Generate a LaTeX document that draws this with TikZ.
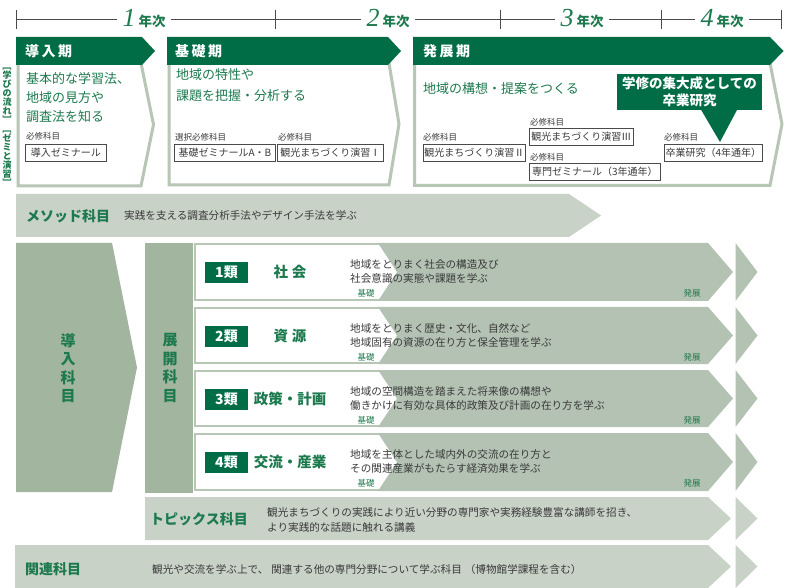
\documentclass[tikz,border=0pt]{standalone}
\usepackage{fontspec}
\usepackage{graphicx}
\setmainfont{Noto Sans CJK JP}
\newfontfamily\numfont{Liberation Serif}
\definecolor{dgreen}{HTML}{006D46}
\definecolor{tgreen}{HTML}{1D7A4E}
\definecolor{bord}{HTML}{B8C6B6}
\definecolor{lrow}{HTML}{C8D2C7}
\definecolor{mrow}{HTML}{B3C2B2}
\definecolor{drow}{HTML}{A2B59F}
\definecolor{tgrey}{HTML}{3A3A3A}
\definecolor{tline}{HTML}{4A4A4A}
\newcommand\jsp{\hspace{2.5pt}}
\newcommand\vbl{\rotatebox[origin=c]{-90}{［}}
\newcommand\vbr{\rotatebox[origin=c]{-90}{］}}
\begin{document}
\begin{tikzpicture}[x=1pt,y=-1pt,
 yr/.style={inner xsep=5pt,inner ysep=0pt,text=tgreen},
 hdrtxt/.style={text=white,font=\fontsize{14}{14}\selectfont\bfseries,anchor=west,inner sep=0pt},
 gtxt/.style={text=tgreen,font=\fontsize{13}{13}\selectfont,anchor=west,inner sep=0pt},
 reqlab/.style={text=tgrey,font=\fontsize{8.5}{8.5}\selectfont,anchor=west,inner sep=0pt},
 course/.style={draw=tline,line width=0.9pt,fill=white,text=tgrey,font=\fontsize{10}{10}\selectfont,inner sep=1pt,minimum height=17pt,anchor=west},
 bodybox/.style={draw=bord,line width=3pt,fill=white},
 cat/.style={fill=dgreen,text=white,font=\fontsize{14}{14}\selectfont\bfseries,minimum width=43pt,minimum height=21pt,inner sep=0pt},
 cattitle/.style={text=tgreen,font=\fontsize{14.5}{14.5}\selectfont\bfseries,inner sep=0pt},
 desc/.style={text=tgrey,font=\fontsize{10.6}{10.6}\selectfont,anchor=west,inner sep=0pt},
 lvl/.style={text=tgreen,font=\fontsize{8.5}{8.5}\selectfont,inner sep=0pt},
 vtitle/.style={text=tgreen,font=\fontsize{15}{18.5}\selectfont\bfseries,align=center,inner sep=0pt},
 rowtitle/.style={text=tgreen,font=\fontsize{14}{14}\selectfont\bfseries,anchor=west,inner sep=0pt},
 tick/.style={draw=tline,line width=0.8pt}
]
\useasboundingbox (0,0) rectangle (785,588);
\fill[white] (0,0) rectangle (785,588);

% ---- timeline
\coordinate (k0) at (16,19);
\coordinate (k1) at (275,19);
\coordinate (k2) at (500,19);
\coordinate (k3) at (661,19);
\coordinate (k4) at (781,19);
\foreach \x in {16,275,500,661,781}{\draw[tick] (\x,10) -- (\x,29);}
\node[yr] (y1) at (144,19) {{\numfont\itshape\fontsize{26}{26}\selectfont 1}\hspace{3pt}{\fontsize{13.5}{13.5}\selectfont\bfseries 年次}};
\node[yr] (y2) at (388,19) {{\numfont\itshape\fontsize{26}{26}\selectfont 2}\hspace{3pt}{\fontsize{13.5}{13.5}\selectfont\bfseries 年次}};
\node[yr] (y3) at (582,19) {{\numfont\itshape\fontsize{26}{26}\selectfont 3}\hspace{3pt}{\fontsize{13.5}{13.5}\selectfont\bfseries 年次}};
\node[yr] (y4) at (722,19) {{\numfont\itshape\fontsize{26}{26}\selectfont 4}\hspace{3pt}{\fontsize{13.5}{13.5}\selectfont\bfseries 年次}};
\draw[tick] (k0) -- (y1.west);
\draw[tick] (y1.east) -- (y2.west);
\draw[tick] (y2.east) -- (y3.west);
\draw[tick] (y3.east) -- (y4.west);
\draw[tick] (y4.east) -- (k4);

% ---- vertical label
\node[text=tgreen,font=\fontsize{9}{9}\selectfont\bfseries,align=center,inner sep=0pt] (vl) at (7,125)
 {\vbl\\学\\び\\の\\流\\れ\\\vbr\\\vbl\\ゼ\\ミ\\と\\演\\習\\\vbr};

% ---- stage boxes
\draw[bodybox] (18,63) -- (141,63) -- (153.5,124.5) -- (141,186) -- (18,186) -- cycle;
\fill[dgreen] (16,37) -- (142,37) -- (155,51) -- (142,65) -- (16,65) -- cycle;
\draw[bodybox] (169,63) -- (389,63) -- (399,124) -- (389,185) -- (169,185) -- cycle;
\fill[dgreen] (167,37) -- (388,37) -- (401,51) -- (388,65) -- (167,65) -- cycle;
\draw[bodybox] (414.5,63) -- (770,63) -- (782,124) -- (770,185.5) -- (414.5,185.5) -- cycle;
\fill[dgreen] (413,37) -- (770,37) -- (783.5,51) -- (770,65) -- (413,65) -- cycle;

\node[hdrtxt] (h1) at (25,51) {導\jsp 入\jsp 期};
\node[hdrtxt] (h2) at (175,51) {基\jsp 礎\jsp 期};
\node[hdrtxt] (h3) at (423,51) {発\jsp 展\jsp 期};

\node[gtxt] (g1a) at (26,79) {基本的な学習法、};
\node[gtxt] (g1b) at (26,98) {地域の見方や};
\node[gtxt] (g1c) at (26,117) {調査法を知る};
\node[gtxt] (g2a) at (176,75) {地域の特性や};
\node[gtxt] (g2b) at (176,96) {課題を把握・分析する};
\node[gtxt] (g3a) at (423,89) {地域の構想・提案をつくる};

\node[reqlab] (r1) at (26,136) {必修科目};
\node[reqlab] (r2a) at (175,137) {選択必修科目};
\node[reqlab] (r2b) at (278,137) {必修科目};
\node[reqlab] (r3a) at (423,137) {必修科目};
\node[reqlab] (r3b) at (530,122) {必修科目};
\node[reqlab] (r3c) at (530,157) {必修科目};
\node[reqlab] (r3d) at (664,137) {必修科目};

\node[course,minimum width=81pt] (c1) at (25,153) {導入ゼミナール};
\node[course,minimum width=101pt] (c2a) at (174,152.5) {基礎ゼミナールA・B};
\node[course,minimum width=106pt] (c2b) at (277,152.5) {観光まちづくり演習Ⅰ};
\node[course,minimum width=102pt] (c3a) at (423,152.5) {観光まちづくり演習Ⅱ};
\node[course,minimum width=104pt] (c3b) at (529,136.5) {観光まちづくり演習Ⅲ};
\node[course,minimum width=131pt] (c3c) at (529,172) {専門ゼミナール（3年通年）};
\node[course,minimum width=98pt] (c3d) at (664,152.5) {卒業研究（4年通年）};

\node[fill=dgreen,text=white,font=\fontsize{13.5}{17}\selectfont\bfseries,align=center,minimum width=145pt,minimum height=36pt,inner sep=0pt] (cl) at (689.5,92) {学修の集大成としての\\卒業研究};
\fill[dgreen] (700,108) -- (738,108) -- (720,142) -- cycle;

% ---- method row
\fill[lrow] (16,194) -- (569,194) -- (601,215.5) -- (569,237) -- (16,237) -- cycle;
\node[rowtitle] (mt) at (26,216) {メソッド科目};
\node[desc] (md) at (124,215) {実践を支える調査分析手法やデザイン手法を学ぶ};

% ---- lower blocks
\fill[drow] (16,243) -- (112,243) -- (137,367.5) -- (112,492) -- (16,492) -- cycle;
\node[vtitle] (dn) at (68,368) {導\\入\\科\\目};
\fill[drow] (145,243) rectangle (193,493);
\node[vtitle] (tk) at (170,368) {展\\開\\科\\目};

\foreach \t/\b/\num/\ttl/\da/\db in {
 243/301/1/{社\hspace{4pt}会}/{地域をとりまく社会の構造及び}/{社会意識の実態や課題を学ぶ},
 307/364/2/{資\hspace{4pt}源}/{地域をとりまく歴史・文化、自然など}/{地域固有の資源の在り方と保全管理を学ぶ},
 370/427/3/{政策・計画}/{地域の空間構造を踏まえた将来像の構想や}/{働きかけに有効な具体的政策及び計画の在り方を学ぶ},
 433/491/4/{交流・産業}/{地域を主体とした域内外の交流の在り方と}/{その関連産業がもたらす経済効果を学ぶ}}{
 \pgfmathsetmacro\m{(\t+\b)/2}
 \draw[draw=bord,line width=2pt,fill=white] (195,\t+1) rectangle (400,\b-1);
 \fill[mrow] (378,\t) -- (708,\t) -- (733,\m) -- (708,\b) -- (378,\b) -- (397,\m) -- cycle;
 \fill[mrow] (735.5,\t) -- (757.5,\m) -- (735.5,\b) -- cycle;
 \node[cat] (cat\num) at (226.5,\t+29.5) {\num 類};
 \node[cattitle] (ttl\num) at (290,\t+29) {\ttl};
 \node[desc] (da\num) at (350,\t+21) {\da};
 \node[desc] (db\num) at (350,\t+35) {\db};
 \node[lvl] (lo\num) at (366,\t+50) {基礎};
 \node[lvl] (hi\num) at (692,\t+50) {発展};
}

% ---- topics row
\fill[lrow] (145,497) -- (708,497) -- (731,518.5) -- (708,540) -- (145,540) -- cycle;
\fill[lrow] (735.5,497) -- (757.5,518.5) -- (735.5,540) -- cycle;
\node[rowtitle] (tpt) at (150,519) {トピックス科目};
\node[desc] (tpa) at (267,512) {観光まちづくりの実践により近い分野の専門家や実務経験豊富な講師を招き、};
\node[desc] (tpb) at (267,527) {より実践的な話題に触れる講義};

% ---- related row
\fill[lrow] (15,545) -- (708,545) -- (731,566.5) -- (708,588) -- (15,588) -- cycle;
\fill[lrow] (735.5,545) -- (757.5,566.5) -- (735.5,588) -- cycle;
\node[rowtitle] (krt) at (25,569) {関連科目};
\node[desc] (krd) at (152,569) {観光や交流を学ぶ上で、\hspace{3pt}関連する他の専門分野について学ぶ科目\hspace{3pt}（博物館学課程を含む）};
\end{tikzpicture}
\end{document}
